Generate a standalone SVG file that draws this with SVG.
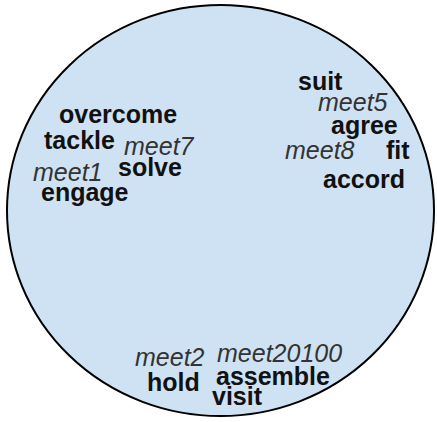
<svg xmlns="http://www.w3.org/2000/svg" width="437" height="422" viewBox="0 0 437 422">
  <style>
    .b { font-family: "Liberation Sans", Arial, sans-serif; font-size: 25px; font-weight: bold; fill: #111; }
    .i { font-family: "Liberation Sans", Arial, sans-serif; font-size: 25px; font-style: italic; fill: #333; }
  </style>
  <rect width="437" height="422" fill="#ffffff"/>
  <g id="set">
    <ellipse cx="220.5" cy="210.5" rx="213.5" ry="205.5" fill="#cfe2f3" stroke="#000" stroke-width="2"/>
  </g>
  <g id="cluster-left">
    <text class="b" x="59" y="123">overcome</text>
    <text class="b" x="44" y="149">tackle</text>
    <text class="i" x="124" y="155">meet7</text>
    <text class="i" x="33" y="181">meet1</text>
    <text class="b" x="118" y="176">solve</text>
    <text class="b" x="41" y="201">engage</text>
  </g>
  <g id="cluster-right">
    <text class="b" x="298" y="90">suit</text>
    <text class="i" x="318" y="111">meet5</text>
    <text class="b" x="331" y="134">agree</text>
    <text class="i" x="285" y="159">meet8</text>
    <text class="b" x="386" y="159">fit</text>
    <text class="b" x="323" y="188">accord</text>
  </g>
  <g id="cluster-bottom">
    <text class="i" x="135" y="366">meet2</text>
    <text class="i" x="217" y="362">meet20100</text>
    <text class="b" x="147" y="391">hold</text>
    <text class="b" x="216" y="385">assemble</text>
    <text class="b" x="212" y="405">visit</text>
  </g>
</svg>
